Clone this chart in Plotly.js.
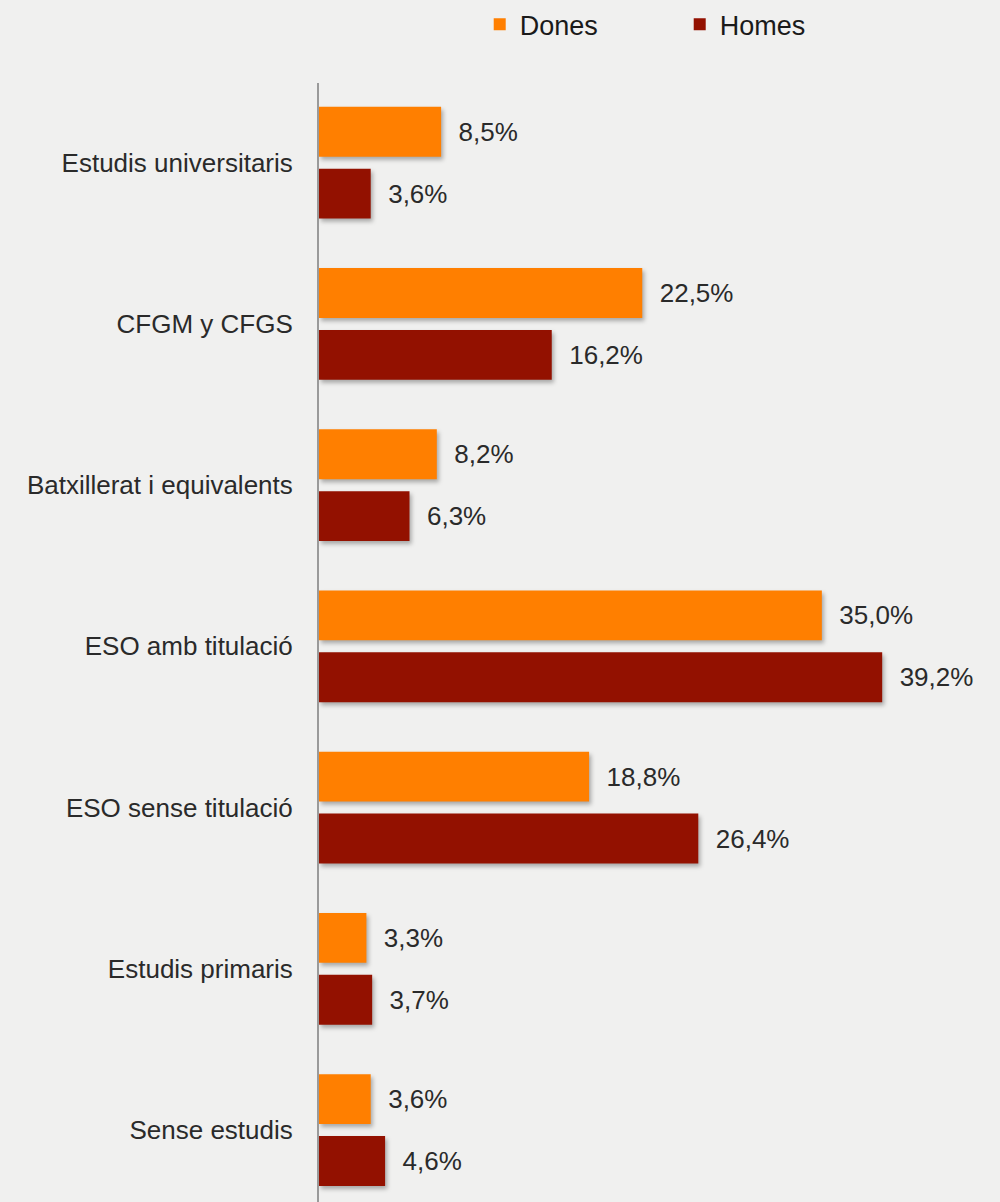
<!DOCTYPE html>
<html>
<head>
<meta charset="utf-8">
<script src="https://cdn.plot.ly/plotly-3.0.1.min.js"></script>
<style>
  html, body { margin: 0; padding: 0; background: #f0f0ef; }
  #chart { width: 1000px; height: 1202px; }
  #chart .bars .point path { filter: drop-shadow(2px 3px 2px rgba(0,0,0,0.3)); }
</style>
</head>
<body>
<div id="chart"></div>
<script>
const categories = [
  'Estudis universitaris',
  'CFGM y CFGS',
  'Batxillerat i equivalents',
  'ESO amb titulació',
  'ESO sense titulació',
  'Estudis primaris',
  'Sense estudis'
];
const dones = [8.5, 22.5, 8.2, 35.0, 18.8, 3.3, 3.6];
const homes = [3.6, 16.2, 6.3, 39.2, 26.4, 3.7, 4.6];

const fmt = (v) => '  ' + v.toFixed(1).replace('.', ',') + '%';

const labelFont = { family: 'Liberation Sans, Arial, sans-serif', size: 26, color: '#2a2a2a' };

const traceDones = {
  type: 'bar',
  orientation: 'h',
  name: 'Dones',
  y: categories,
  x: dones,
  text: dones.map(fmt),
  textposition: 'outside',
  textfont: labelFont,
  cliponaxis: false,
  marker: { color: '#ff7f00' },
  hoverinfo: 'none'
};

const traceHomes = {
  type: 'bar',
  orientation: 'h',
  name: 'Homes',
  y: categories,
  x: homes,
  text: homes.map(fmt),
  textposition: 'outside',
  textfont: labelFont,
  cliponaxis: false,
  marker: { color: '#931100' },
  hoverinfo: 'none'
};

const layout = {
  width: 1000,
  height: 1202,
  margin: { l: 319, r: 0, t: 80, b: 0 },
  paper_bgcolor: '#f0f0ef',
  plot_bgcolor: 'rgba(0,0,0,0)',
  barmode: 'group',
  bargap: 0.233,
  bargroupgap: 0.194,
  showlegend: true,
  legend: {
    orientation: 'h',
    x: 0.236,
    xanchor: 'left',
    y: 1.052,
    yanchor: 'middle',
    traceorder: 'normal',
    entrywidth: 155,
    entrywidthmode: 'pixels',
    font: { family: 'Liberation Sans, Arial, sans-serif', size: 27, color: '#1a1a1a' },
    bgcolor: 'rgba(0,0,0,0)'
  },
  xaxis: {
    range: [0, 47.4],
    showgrid: false,
    zeroline: false,
    showticklabels: false,
    showline: false,
    fixedrange: true
  },
  yaxis: {
    type: 'category',
    range: [6.446, -0.494],
    showgrid: false,
    zeroline: false,
    showline: true,
    linecolor: '#9a9a9a',
    linewidth: 2,
    ticks: 'outside',
    ticklen: 19,
    tickcolor: 'rgba(0,0,0,0)',
    tickfont: labelFont,
    fixedrange: true
  }
};

Plotly.newPlot('chart', [traceDones, traceHomes], layout, { displayModeBar: false, staticPlot: true });
</script>
</body>
</html>
